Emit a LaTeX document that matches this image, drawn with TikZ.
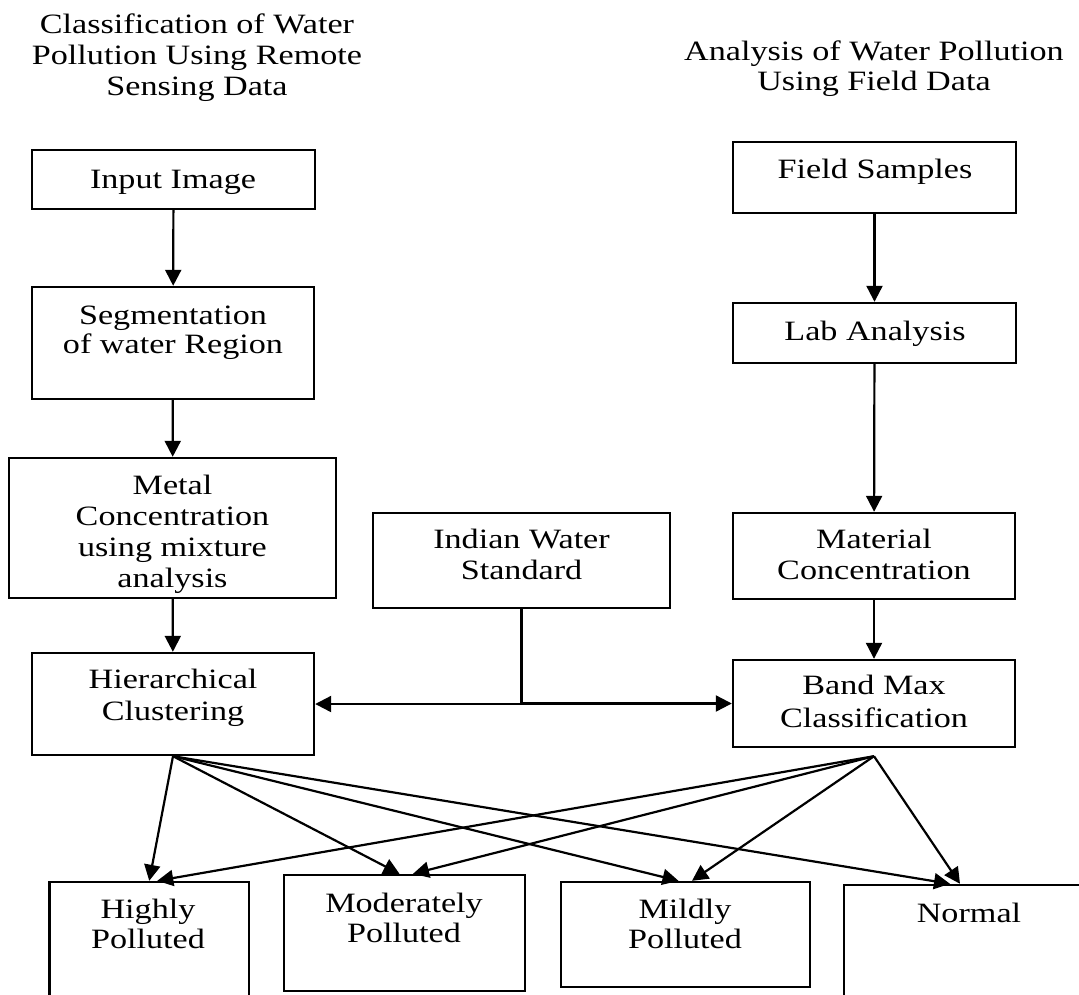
\documentclass[tikz,border=0pt]{standalone}
\usepackage{fontspec}
\setmainfont{Liberation Serif}
\usetikzlibrary{arrows.meta,calc}
\begin{document}
\begin{tikzpicture}[x=1pt,y=-1pt,
  box/.style 2 args={draw,line width=2.4pt,inner sep=0pt,minimum width=#1,minimum height=#2},
  txt/.style={font=\fontsize{28pt}{31pt}\selectfont,align=center,anchor=base,inner sep=0pt,xscale=1.22},
  arr/.style={line width=2.2pt,-{Triangle[length=16pt,width=16pt]}}]
\useasboundingbox (0,0) rectangle (1079,994);
\clip (0,0) rectangle (1079,994);
% titles (anchor = baseline of last line)
\node[txt] (titleL) at (197,95) {Classification of Water\\Pollution Using Remote\\Sensing Data};
\node[txt,font=\fontsize{28pt}{30pt}\selectfont] (titleR) at (874,90) {Analysis of Water Pollution\\Using Field Data};
% left column boxes
\node[box={283pt}{59pt}] (inp) at (173.5,179.5) {};
\node[box={282pt}{112pt}] (seg) at (173,343) {};
\node[box={327pt}{140pt}] (metal) at (172.5,528) {};
\node[box={282pt}{102pt}] (hier) at (173,704) {};
% centre
\node[box={297pt}{95pt}] (ind) at (521.5,560.5) {};
% right column
\node[box={283pt}{71pt}] (field) at (874.5,177.5) {};
\node[box={283pt}{60pt}] (lab) at (874.5,333) {};
\node[box={282pt}{86pt}] (mat) at (874,556) {};
\node[box={282pt}{87pt}] (band) at (874,703.5) {};
% bottom
\node[box={199.5pt}{128pt}] (high) at (149.25,946) {};
\node[box={241pt}{116pt}] (mod) at (404.5,933) {};
\node[box={249pt}{105pt}] (mild) at (685.5,934.5) {};
\node[box={250pt}{125pt}] (norm) at (969,947.5) {};
% texts
\node[txt] (inpT) at (173,188) {Input Image};
\node[txt,font=\fontsize{28pt}{29pt}\selectfont] (segT) at (173,353) {Segmentation\\of water Region};
\node[txt] (metalT) at (172.5,587) {Metal\\Concentration\\using mixture\\analysis};
\node[txt,font=\fontsize{28pt}{32pt}\selectfont] (hierT) at (173,720) {Hierarchical\\Clustering};
\node[txt] (indT) at (521.5,579) {Indian Water\\Standard};
\node[txt] (fieldT) at (875,178) {Field Samples};
\node[txt] (labT) at (875,340) {Lab Analysis};
\node[txt] (matT) at (874,579) {Material\\Concentration};
\node[txt,font=\fontsize{28pt}{33pt}\selectfont] (bandT) at (874,727) {Band Max\\Classification};
\node[txt,font=\fontsize{28pt}{30pt}\selectfont] (highT) at (148,948) {Highly\\Polluted};
\node[txt,font=\fontsize{28pt}{30pt}\selectfont] (modT) at (404,942) {Moderately\\Polluted};
\node[txt,font=\fontsize{28pt}{30pt}\selectfont] (mildT) at (685,948) {Mildly\\Polluted};
\node[txt] (normT) at (969,922) {Normal};
% vertical flow
\draw[arr] (inp) -- (seg);
\draw[arr] (seg) -- (metal);
\draw[arr] (metal) -- (hier);
\draw[arr] (field) -- (lab);
\draw[arr] (lab) -- (mat);
\draw[arr] (mat) -- (band);
% standard
\draw[arr] (ind.south) |- (hier.east);
\draw[arr] (ind.south) |- (band.west);
% fan-out
\coordinate (hs) at (hier.south);
\coordinate (bs) at ($(band.south)+(0,8)$);
\draw[arr] (hs) -- (high.north);
\draw[arr] (hs) -- ($(mod.north)+(-5,0)$);
\draw[arr] (hs) -- ($(mild.north)+(-7,0)$);
\draw[arr] (hs) -- ($(norm.north)+(-19,0)$);
\draw[arr] (bs) -- ($(high.north)+(8,0)$);
\draw[arr] (bs) -- ($(mod.north)+(8.5,0)$);
\draw[arr] (bs) -- ($(mild.north)+(6.5,0)$);
\draw[arr] (bs) -- ($(norm.north)+(-9,0)$);
\end{tikzpicture}
\end{document}
